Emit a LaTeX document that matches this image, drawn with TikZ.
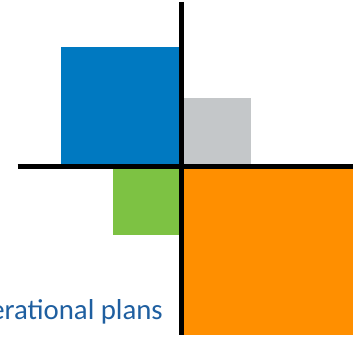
\documentclass[tikz,border=0pt]{standalone}
\usepackage{fontspec}
\setmainfont{Carlito}
\definecolor{planblue}{HTML}{0079C1}
\definecolor{plangray}{HTML}{C4C7C9}
\definecolor{plangreen}{HTML}{7DC243}
\definecolor{planorange}{HTML}{FF8F00}
\definecolor{labelblue}{HTML}{1F5FA0}
\begin{document}
\begin{tikzpicture}[x=1pt,y=-1pt,
  axis/.style={line width=5pt,black}]
\useasboundingbox (0,0) rectangle (361,337);
\clip (0,0) rectangle (361,337);
% quadrant blocks
\fill[planblue]   (61,47)   rectangle (181.5,166.5);
\fill[plangray]   (181.5,98) rectangle (251,166.5);
\fill[plangreen]  (113,166.5) rectangle (181.5,235);
\fill[planorange] (181.5,166.5) rectangle (353,335);
% axes
\coordinate (top) at (181.5,2);
\coordinate (bottom) at (181.5,335);
\coordinate (left) at (17.5,166.5);
\coordinate (right) at (353,166.5);
\draw[axis] (top) -- (bottom);
\draw[axis] (left) -- (right);
% label, running off the left edge
\node[anchor=base east,inner sep=0pt,text=labelblue,font=\fontsize{28.8}{32}\selectfont] (label) at (163,319) {Operational plans};
\end{tikzpicture}
\end{document}
